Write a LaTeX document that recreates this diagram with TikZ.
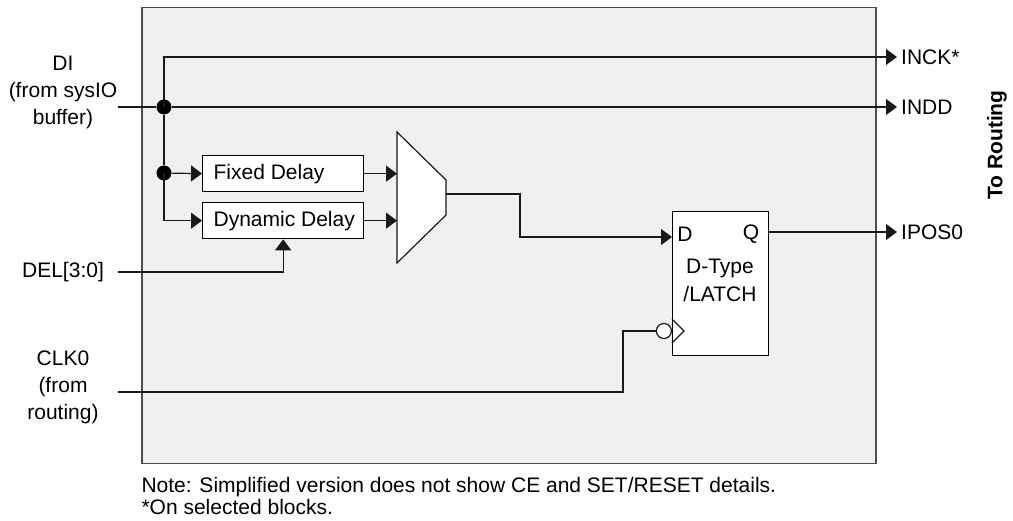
\documentclass[tikz,border=0pt]{standalone}
\usepackage{fontspec}
\setmainfont{Liberation Sans}
\usetikzlibrary{arrows.meta,positioning}

\tikzset{
  wire/.style={line width=1.2pt, draw=black!90},
  sig/.style={wire, -{Triangle[length=11pt,width=16pt]}},
  dly/.style={draw, line width=1.3pt, fill=white, inner xsep=11pt, minimum height=36pt, anchor=north west},
  dot/.style={circle, fill=black, inner sep=0pt, minimum size=15pt},
  pin/.style={anchor=west, inner xsep=4pt},
}
\newcommand{\dlytext}[1]{\makebox[139pt][l]{#1}}

\begin{document}
\begin{tikzpicture}[x=1pt, y=-1pt, every node/.style={font=\fontsize{21}{27}\selectfont}]
\useasboundingbox (0,0) rectangle (1013,521);
% block outline
\node[draw=black!70, line width=1.5pt, fill=black!6, minimum width=734pt, minimum height=456pt, anchor=north west] (blk) at (141,7) {};

% inputs
\node[align=center] (di) at (63,92) {DI\\(from sysIO\\buffer)};
\node (del) at (63,272) {DEL[3:0]};
\node[align=center] (clk) at (63,387) {CLK0\\(from\\routing)};
\coordinate (diin) at (118,107);
\coordinate (delin) at (118,272);
\coordinate (clkin) at (118,392);

% junctions
\node[dot] (j1) at (164,107) {};
\node[dot] (j2) at (164,173) {};

% delay blocks
\node[dly] (fixd) at (202,155) {\dlytext{Fixed Delay}};
\node[dly] (dynd) at (202,202) {\dlytext{Dynamic Delay}};

% mux
\draw[wire, fill=white] (397,132) coordinate (mux) -- (446,180) -- (446,215) -- (397,263) -- cycle;
\coordinate (mo) at (446,194);

% flip-flop
\node[draw, line width=1.3pt, fill=white, minimum width=96pt, minimum height=144pt, anchor=north west] (ff) at (672,211) {};
\node (dlab) at (685,234) {D};
\node (qlab) at (751,234) {Q};
\node[align=center, font=\fontsize{21}{28}\selectfont] (fft) at (720,280) {D-Type\\/LATCH};
\coordinate (ffclk) at (672,331);
\draw[wire] (ffclk) ++(0,-12) -- ++(12,12) -- ++(-12,12);
\node[circle, draw, wire, fill=white, minimum size=15pt, inner sep=0pt, left=0pt of ffclk] (bub) {};

% outputs
\node[pin] (inck) at (897,57) {INCK*};
\node[pin] (indd) at (897,107) {INDD};
\node[pin] (ipos) at (897,232) {IPOS0};
\node[rotate=90, font=\fontsize{21}{27}\selectfont\bfseries] (route) at (997,145) {To Routing};

% wires
\draw[wire] (diin) -- (j1);
\draw[sig] (j1) -- (indd);
\draw[sig] (j1.center) |- (inck.west);
\draw[wire] (j1) -- (j2);
\draw[sig] (j2) -- (fixd.west);
\draw[sig] (j2.center) |- (dynd.west);
\draw[sig] (delin) -| (dynd.south);
\draw[sig] (fixd.east) -- (fixd.east -| mux);
\draw[sig] (dynd.east) -- (dynd.east -| mux);
\draw[sig] (mo) -- ++(74,0) |- ([yshift=-26pt]ff.north west);
\draw[sig] ([yshift=-21pt]ff.north east) -- (ipos.west);
\draw[wire] (clkin) -- ++(505,0) |- (bub.west);

% notes
\node[anchor=north west, align=left, font=\fontsize{21}{22}\selectfont] (note) at (138,473.5) {Note: Simplified version does not show CE and SET/RESET details.\\*On selected blocks.};
\end{tikzpicture}
\end{document}
